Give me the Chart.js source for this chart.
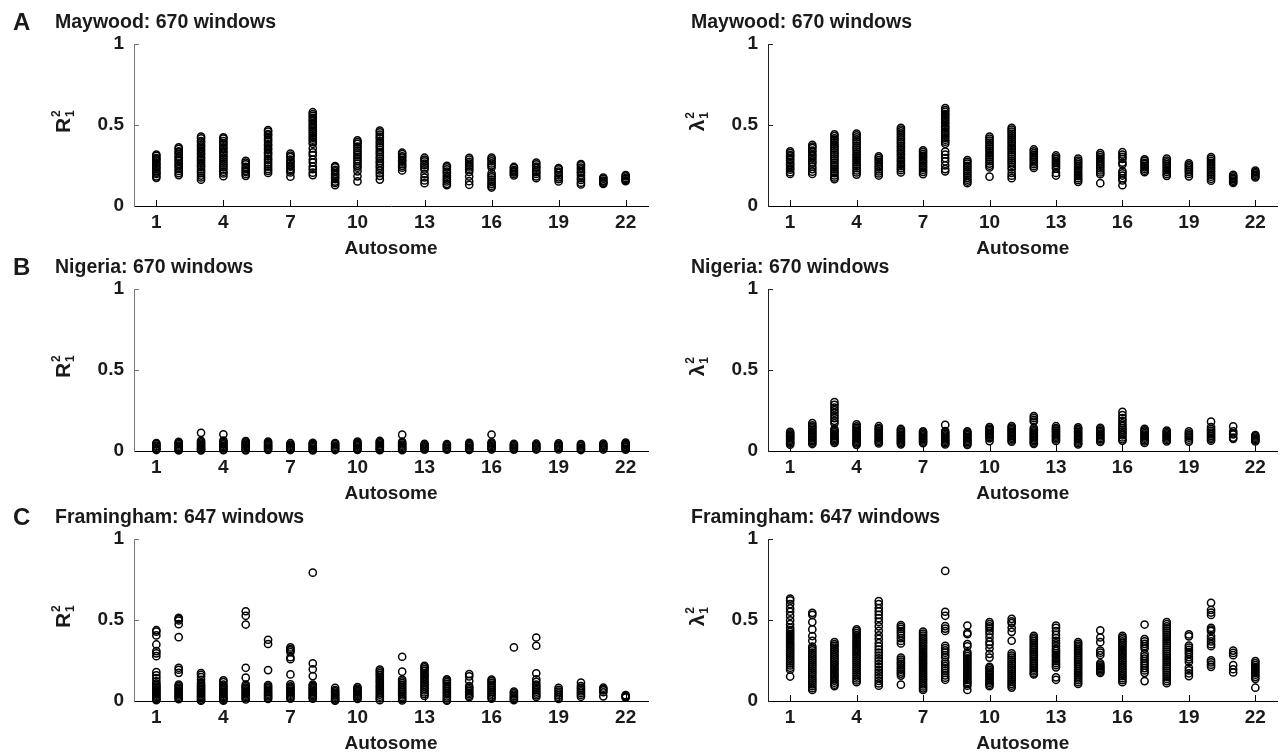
<!DOCTYPE html>
<html>
<head>
<meta charset="utf-8">
<script src="https://cdn.jsdelivr.net/npm/chart.js@4.4.0/dist/chart.umd.min.js"></script>
<style>
body{margin:0;background:#fff;}
#wrap{position:relative;width:1283px;height:755px;overflow:hidden;background:#fff;}
canvas{position:absolute;}
</style>
</head>
<body>
<div id="wrap">
<canvas id="pA1" width="655" height="260" style="left:0;top:0"></canvas>
<canvas id="pA2" width="628" height="260" style="left:655px;top:0"></canvas>
<canvas id="pB1" width="655" height="260" style="left:0;top:245px"></canvas>
<canvas id="pB2" width="628" height="260" style="left:655px;top:245px"></canvas>
<canvas id="pC1" width="655" height="260" style="left:0;top:495px"></canvas>
<canvas id="pC2" width="628" height="260" style="left:655px;top:495px"></canvas>
</div>
<script>
var autosomes = [1,2,3,4,5,6,7,8,9,10,11,12,13,14,15,16,17,18,19,20,21,22];
var xTickLabels = [1,4,7,10,13,16,19,22];
var yTickLabels = [0,0.5,1];
var panelLetters = ['A','','B','','C',''];
var panelTitles = ['Maywood: 670 windows','Maywood: 670 windows','Nigeria: 670 windows','Nigeria: 670 windows','Framingham: 647 windows','Framingham: 647 windows'];

// values per autosome
var maywoodR2 = [
 [0.318,0.309,0.296,0.288,0.281,0.266,0.259,0.247,0.236,0.229,0.214,0.206,0.198,0.183,0.174],
 [0.362,0.353,0.338,0.331,0.322,0.306,0.299,0.284,0.277,0.262,0.251,0.244,0.229,0.216,0.203,0.191],
 [0.428,0.417,0.401,0.393,0.377,0.366,0.352,0.341,0.327,0.318,0.302,0.291,0.279,0.266,0.251,0.243,0.227,0.214,0.203,0.188,0.176,0.162],
 [0.424,0.416,0.401,0.389,0.377,0.362,0.353,0.337,0.328,0.313,0.301,0.288,0.276,0.263,0.252,0.239,0.226,0.212,0.201,0.184],
 [0.279,0.268,0.257,0.241,0.233,0.218,0.211,0.198,0.186],
 [0.468,0.459,0.444,0.436,0.421,0.409,0.397,0.381,0.372,0.356,0.347,0.331,0.322,0.308,0.293,0.284,0.269,0.256,0.243,0.229,0.217,0.204],
 [0.323,0.311,0.302,0.287,0.276,0.266,0.251,0.243,0.229,0.218,0.207,0.181],
 [0.579,0.568,0.556,0.544,0.531,0.522,0.507,0.496,0.483,0.471,0.458,0.447,0.433,0.421,0.409,0.396,0.384,0.356,0.331,0.314,0.287,0.268,0.243,0.227,0.206,0.191],
 [0.247,0.238,0.223,0.214,0.199,0.191,0.178,0.166,0.151,0.142,0.129],
 [0.406,0.394,0.383,0.367,0.358,0.342,0.331,0.316,0.303,0.289,0.276,0.262,0.247,0.236,0.214,0.183,0.152],
 [0.466,0.455,0.441,0.428,0.417,0.401,0.389,0.373,0.362,0.347,0.333,0.321,0.304,0.293,0.277,0.266,0.249,0.236,0.219,0.203,0.186,0.163],
 [0.329,0.321,0.307,0.298,0.283,0.274,0.259,0.248,0.236,0.219],
 [0.298,0.287,0.276,0.261,0.252,0.238,0.226,0.197,0.176,0.158,0.141],
 [0.248,0.239,0.226,0.212,0.203,0.188,0.177,0.163,0.152,0.137,0.128],
 [0.297,0.286,0.273,0.262,0.249,0.238,0.226,0.211,0.182,0.153,0.131],
 [0.299,0.288,0.276,0.263,0.251,0.238,0.201,0.188,0.177,0.163,0.149,0.137,0.124,0.114],
 [0.241,0.234,0.222,0.214,0.207,0.198,0.189],
 [0.268,0.257,0.243,0.236,0.221,0.209,0.198,0.183,0.172],
 [0.234,0.226,0.212,0.203,0.189,0.177,0.166,0.152],
 [0.259,0.251,0.237,0.226,0.211,0.203,0.188,0.172,0.161,0.144,0.133],
 [0.176,0.168,0.157,0.151,0.143,0.137],
 [0.191,0.183,0.172,0.167,0.159,0.153]
];
var maywoodL2 = [
 [0.338,0.326,0.314,0.306,0.291,0.283,0.268,0.257,0.246,0.233,0.224,0.209,0.198],
 [0.377,0.366,0.357,0.342,0.333,0.318,0.309,0.296,0.284,0.271,0.262,0.243,0.228,0.212,0.198],
 [0.443,0.432,0.418,0.409,0.393,0.381,0.368,0.357,0.343,0.331,0.318,0.306,0.292,0.281,0.267,0.254,0.241,0.228,0.214,0.203,0.189,0.176,0.166],
 [0.447,0.436,0.423,0.411,0.398,0.386,0.372,0.361,0.348,0.336,0.321,0.309,0.296,0.284,0.271,0.258,0.246,0.233,0.219,0.207,0.194],
 [0.306,0.296,0.284,0.273,0.262,0.248,0.239,0.226,0.213,0.201,0.188],
 [0.483,0.472,0.461,0.448,0.436,0.423,0.411,0.397,0.386,0.372,0.361,0.347,0.336,0.322,0.311,0.297,0.284,0.272,0.258,0.246,0.233,0.221,0.207],
 [0.344,0.333,0.321,0.309,0.298,0.284,0.273,0.261,0.248,0.236,0.224,0.211,0.197],
 [0.604,0.592,0.581,0.568,0.557,0.544,0.532,0.519,0.508,0.494,0.483,0.471,0.458,0.446,0.434,0.421,0.409,0.397,0.384,0.336,0.318,0.296,0.276,0.251,0.228,0.214],
 [0.284,0.273,0.262,0.248,0.238,0.224,0.213,0.199,0.187,0.174,0.162,0.151,0.141],
 [0.428,0.416,0.403,0.392,0.378,0.366,0.353,0.341,0.328,0.314,0.302,0.289,0.276,0.262,0.249,0.238,0.181],
 [0.483,0.471,0.459,0.447,0.434,0.421,0.409,0.396,0.384,0.371,0.358,0.346,0.332,0.319,0.306,0.293,0.281,0.268,0.256,0.241,0.226,0.204,0.187,0.172],
 [0.349,0.338,0.327,0.316,0.304,0.293,0.282,0.269,0.258,0.246,0.235],
 [0.312,0.301,0.289,0.278,0.266,0.254,0.243,0.231,0.204,0.188],
 [0.292,0.281,0.269,0.258,0.246,0.234,0.222,0.209,0.196,0.184,0.172,0.161,0.149],
 [0.326,0.314,0.302,0.291,0.279,0.268,0.256,0.244,0.232,0.219,0.207,0.196,0.141],
 [0.332,0.318,0.304,0.291,0.268,0.256,0.214,0.201,0.188,0.172,0.158,0.128],
 [0.288,0.278,0.267,0.258,0.248,0.239,0.229,0.218,0.209],
 [0.292,0.281,0.269,0.258,0.246,0.234,0.222,0.211,0.198,0.186],
 [0.264,0.253,0.243,0.232,0.221,0.211,0.198,0.183],
 [0.302,0.291,0.279,0.267,0.255,0.243,0.231,0.218,0.206,0.193,0.181,0.168,0.156],
 [0.192,0.183,0.174,0.166,0.157,0.149,0.142],
 [0.218,0.209,0.201,0.193,0.184,0.176]
];
var nigeriaR2 = [
 [0.049,0.042,0.033,0.027,0.018,0.012,0.006],
 [0.057,0.049,0.043,0.034,0.027,0.021,0.013,0.008,0.003],
 [0.112,0.063,0.054,0.046,0.038,0.031,0.023,0.016,0.009,0.004],
 [0.103,0.064,0.057,0.048,0.041,0.032,0.025,0.018,0.01,0.005],
 [0.061,0.053,0.046,0.038,0.03,0.023,0.016,0.009,0.004],
 [0.058,0.051,0.042,0.036,0.028,0.021,0.014,0.007],
 [0.048,0.04,0.033,0.026,0.019,0.011,0.006],
 [0.051,0.044,0.036,0.03,0.022,0.014,0.008,0.003],
 [0.049,0.042,0.034,0.026,0.019,0.012,0.006],
 [0.058,0.05,0.043,0.036,0.028,0.02,0.013,0.007],
 [0.062,0.055,0.047,0.04,0.032,0.025,0.018,0.011,0.005],
 [0.101,0.056,0.048,0.04,0.033,0.026,0.018,0.011,0.005],
 [0.044,0.037,0.029,0.022,0.015,0.008],
 [0.043,0.036,0.028,0.021,0.014,0.008],
 [0.05,0.043,0.035,0.028,0.02,0.013,0.007],
 [0.102,0.054,0.046,0.039,0.031,0.024,0.016,0.009],
 [0.044,0.036,0.029,0.021,0.014,0.008],
 [0.045,0.037,0.03,0.022,0.015,0.009],
 [0.047,0.04,0.032,0.025,0.017,0.01],
 [0.043,0.035,0.028,0.02,0.013,0.006],
 [0.046,0.038,0.031,0.023,0.016,0.009],
 [0.052,0.044,0.037,0.029,0.022,0.014,0.008]
];
var nigeriaL2 = [
 [0.118,0.109,0.101,0.093,0.086,0.078,0.07,0.062,0.054,0.047,0.039],
 [0.172,0.158,0.149,0.14,0.131,0.122,0.113,0.104,0.095,0.087,0.078,0.069,0.061,0.052,0.043],
 [0.302,0.285,0.268,0.252,0.236,0.219,0.203,0.186,0.171,0.135,0.126,0.117,0.108,0.099,0.091,0.082,0.074,0.066,0.058,0.05],
 [0.165,0.152,0.143,0.134,0.125,0.116,0.107,0.098,0.089,0.081,0.072,0.064,0.055,0.047,0.038],
 [0.153,0.142,0.133,0.124,0.115,0.106,0.097,0.089,0.08,0.071,0.063,0.055,0.047],
 [0.136,0.127,0.118,0.109,0.1,0.092,0.083,0.075,0.066,0.058,0.05,0.041],
 [0.121,0.113,0.105,0.097,0.089,0.081,0.073,0.065,0.057,0.049],
 [0.161,0.123,0.114,0.106,0.097,0.089,0.08,0.072,0.064,0.056,0.048,0.04],
 [0.121,0.113,0.104,0.096,0.088,0.079,0.071,0.063,0.055,0.046,0.038],
 [0.148,0.139,0.13,0.121,0.112,0.103,0.095,0.086,0.078,0.061],
 [0.154,0.145,0.136,0.127,0.118,0.109,0.1,0.091,0.083,0.074,0.065,0.057],
 [0.215,0.204,0.192,0.182,0.142,0.131,0.122,0.113,0.104,0.095,0.087,0.078,0.069,0.061,0.052,0.044],
 [0.153,0.142,0.133,0.124,0.115,0.106,0.097,0.089,0.08,0.071,0.062],
 [0.146,0.137,0.128,0.118,0.109,0.1,0.091,0.083,0.074,0.065,0.057,0.048,0.04],
 [0.143,0.134,0.125,0.116,0.107,0.099,0.09,0.081,0.073,0.064,0.056],
 [0.242,0.222,0.203,0.186,0.171,0.156,0.142,0.131,0.119,0.108,0.097,0.084,0.072,0.063],
 [0.137,0.128,0.119,0.11,0.101,0.093,0.084,0.076,0.067,0.059,0.05],
 [0.126,0.118,0.109,0.101,0.092,0.084,0.076,0.067,0.059],
 [0.121,0.109,0.1,0.091,0.082,0.07,0.058],
 [0.181,0.148,0.135,0.124,0.113,0.103,0.093,0.083,0.073,0.064],
 [0.152,0.122,0.109,0.102,0.083,0.075],
 [0.098,0.09,0.082,0.074,0.067,0.059]
];
var framinghamR2 = [
 [0.437,0.428,0.405,0.349,0.308,0.294,0.277,0.178,0.159,0.141,0.122,0.108,0.098,0.089,0.081,0.072,0.064,0.056,0.048,0.041,0.033,0.025,0.018,0.011,0.005],
 [0.513,0.506,0.497,0.474,0.394,0.205,0.193,0.174,0.101,0.092,0.083,0.075,0.066,0.058,0.05,0.042,0.034,0.026,0.018,0.011],
 [0.172,0.162,0.148,0.131,0.112,0.101,0.092,0.083,0.074,0.066,0.057,0.049,0.041,0.032,0.024,0.016,0.008,0.002],
 [0.128,0.117,0.101,0.092,0.083,0.074,0.065,0.057,0.048,0.04,0.031,0.023,0.015,0.007,0.002],
 [0.554,0.526,0.472,0.205,0.144,0.101,0.092,0.083,0.075,0.066,0.058,0.049,0.041,0.033,0.025,0.017,0.01],
 [0.378,0.352,0.191,0.098,0.089,0.08,0.071,0.062,0.054,0.045,0.037,0.029,0.02,0.013],
 [0.331,0.321,0.312,0.302,0.27,0.258,0.164,0.103,0.091,0.082,0.073,0.064,0.056,0.047,0.039,0.03,0.022,0.014],
 [0.792,0.232,0.196,0.154,0.102,0.094,0.086,0.078,0.07,0.062,0.054,0.046,0.038,0.03,0.022,0.014],
 [0.081,0.068,0.059,0.051,0.043,0.035,0.027,0.019,0.012,0.005,0.002],
 [0.086,0.077,0.069,0.061,0.053,0.045,0.037,0.029,0.021,0.013],
 [0.194,0.183,0.172,0.161,0.148,0.136,0.124,0.112,0.099,0.087,0.075,0.063,0.051,0.039,0.027,0.016,0.005],
 [0.273,0.181,0.132,0.121,0.11,0.099,0.088,0.077,0.066,0.056,0.045,0.034,0.023,0.012,0.003],
 [0.217,0.208,0.197,0.186,0.172,0.161,0.149,0.137,0.125,0.113,0.101,0.089,0.077,0.065,0.053,0.042,0.031],
 [0.134,0.126,0.117,0.106,0.095,0.084,0.073,0.062,0.051,0.04,0.029,0.018,0.008,0.002],
 [0.166,0.152,0.124,0.092,0.082,0.072,0.062,0.052,0.042,0.033,0.024],
 [0.132,0.123,0.112,0.101,0.09,0.079,0.068,0.057,0.046,0.035,0.024,0.014],
 [0.331,0.058,0.049,0.04,0.031,0.022,0.013,0.005],
 [0.392,0.341,0.171,0.134,0.118,0.101,0.09,0.079,0.068,0.057,0.046,0.035,0.025],
 [0.081,0.069,0.058,0.047,0.036,0.025,0.013],
 [0.113,0.092,0.081,0.07,0.059,0.048,0.037,0.026],
 [0.082,0.073,0.065,0.054,0.029],
 [0.036,0.031,0.026,0.021]
];
var framinghamL2 = [
 [0.632,0.621,0.598,0.572,0.551,0.526,0.498,0.474,0.452,0.438,0.426,0.413,0.401,0.389,0.376,0.364,0.352,0.341,0.329,0.317,0.305,0.293,0.281,0.268,0.256,0.244,0.232,0.219,0.206,0.193,0.151],
 [0.544,0.532,0.487,0.442,0.401,0.372,0.336,0.324,0.312,0.299,0.287,0.275,0.263,0.251,0.238,0.226,0.214,0.202,0.189,0.177,0.165,0.152,0.139,0.127,0.115,0.103,0.091,0.079,0.068],
 [0.364,0.352,0.341,0.329,0.317,0.305,0.293,0.281,0.269,0.257,0.245,0.233,0.221,0.209,0.197,0.185,0.173,0.161,0.149,0.137,0.125,0.113,0.101,0.092],
 [0.442,0.431,0.419,0.407,0.395,0.383,0.371,0.358,0.346,0.334,0.322,0.31,0.298,0.286,0.273,0.261,0.249,0.237,0.225,0.212,0.2,0.188,0.176,0.163,0.151,0.139,0.127,0.116],
 [0.617,0.598,0.574,0.553,0.532,0.511,0.488,0.461,0.433,0.406,0.383,0.358,0.337,0.318,0.299,0.281,0.263,0.246,0.228,0.211,0.193,0.176,0.158,0.141,0.124,0.108,0.094],
 [0.468,0.457,0.445,0.431,0.418,0.403,0.388,0.371,0.355,0.268,0.256,0.243,0.231,0.219,0.206,0.194,0.181,0.169,0.157,0.101],
 [0.428,0.416,0.404,0.392,0.38,0.368,0.356,0.344,0.332,0.32,0.307,0.295,0.283,0.271,0.259,0.247,0.235,0.223,0.211,0.199,0.186,0.174,0.162,0.15,0.138,0.126,0.114,0.102,0.09,0.078,0.068],
 [0.803,0.551,0.526,0.462,0.447,0.432,0.341,0.326,0.312,0.298,0.284,0.27,0.242,0.229,0.215,0.201,0.187,0.173,0.158,0.144,0.131],
 [0.466,0.421,0.412,0.352,0.338,0.301,0.289,0.277,0.264,0.252,0.24,0.228,0.216,0.203,0.191,0.179,0.167,0.154,0.142,0.13,0.118,0.106,0.094,0.068],
 [0.487,0.474,0.461,0.448,0.432,0.414,0.391,0.365,0.348,0.324,0.291,0.268,0.211,0.201,0.191,0.181,0.171,0.161,0.151,0.141,0.131,0.121,0.111,0.101,0.091],
 [0.507,0.491,0.481,0.452,0.427,0.372,0.294,0.281,0.268,0.256,0.243,0.231,0.218,0.206,0.193,0.181,0.168,0.156,0.143,0.131,0.118,0.106,0.094,0.083],
 [0.402,0.391,0.38,0.369,0.358,0.347,0.336,0.325,0.314,0.303,0.292,0.281,0.27,0.259,0.248,0.237,0.226,0.215,0.204,0.193,0.182,0.171,0.164],
 [0.466,0.451,0.432,0.408,0.389,0.372,0.356,0.339,0.322,0.309,0.296,0.283,0.271,0.258,0.246,0.233,0.221,0.208,0.146,0.131],
 [0.364,0.353,0.342,0.331,0.319,0.308,0.297,0.286,0.274,0.263,0.252,0.241,0.229,0.218,0.207,0.196,0.184,0.173,0.162,0.151,0.139,0.128,0.116,0.105],
 [0.436,0.392,0.363,0.311,0.298,0.284,0.232,0.221,0.213,0.205,0.197,0.189,0.181,0.173],
 [0.402,0.391,0.38,0.368,0.357,0.345,0.333,0.321,0.309,0.297,0.285,0.273,0.261,0.249,0.237,0.225,0.213,0.201,0.189,0.177,0.165,0.153,0.141,0.129,0.116],
 [0.472,0.382,0.368,0.353,0.339,0.324,0.291,0.276,0.262,0.247,0.232,0.218,0.203,0.189,0.174,0.123],
 [0.487,0.474,0.461,0.448,0.435,0.422,0.409,0.396,0.383,0.37,0.357,0.344,0.331,0.318,0.305,0.292,0.279,0.266,0.253,0.24,0.227,0.214,0.201,0.188,0.175,0.162,0.149,0.136,0.123,0.11],
 [0.411,0.399,0.342,0.329,0.316,0.302,0.289,0.271,0.257,0.241,0.205,0.189,0.171,0.154],
 [0.606,0.562,0.546,0.531,0.452,0.441,0.432,0.401,0.384,0.368,0.351,0.338,0.251,0.238,0.224,0.211],
 [0.311,0.297,0.283,0.221,0.196,0.176],
 [0.246,0.234,0.222,0.21,0.198,0.186,0.174,0.162,0.149,0.137,0.082]
];

var FONT = '"Liberation Sans", Arial, Helvetica, sans-serif';

// draws inward ticks, panel heading, axis labels
var panelText = {
    id: 'panelText',
    afterDraw: function(chart, args, opts) {
        var ctx = chart.ctx;
        var a = chart.chartArea;
        var xs = chart.scales.x, ys = chart.scales.y;
        ctx.save();
        ctx.lineWidth = 1;
        ctx.strokeStyle = '#000';
        xTickLabels.forEach(function(v){
            var px = Math.round(xs.getPixelForValue(v)) + 0.5;
            ctx.beginPath(); ctx.moveTo(px, a.bottom); ctx.lineTo(px, a.bottom - 6); ctx.stroke();
        });
        ctx.strokeStyle = opts.axisColor;
        [0.5, 1].forEach(function(v){
            var py = Math.round(ys.getPixelForValue(v)) + 0.5;
            ctx.beginPath(); ctx.moveTo(a.left, py); ctx.lineTo(a.left + 5, py); ctx.stroke();
        });

        ctx.fillStyle = '#1a1a1a';
        ctx.textBaseline = 'alphabetic';
        ctx.textAlign = 'left';
        if (opts.letter) {
            ctx.font = 'bold 24px ' + FONT;
            ctx.fillText(opts.letter, 13, 30);
        }
        ctx.font = 'bold 19.5px ' + FONT;
        ctx.fillText(opts.title, opts.titleX, 28);

        ctx.font = 'bold 19px ' + FONT;
        ctx.textAlign = 'center';
        ctx.textBaseline = 'middle';
        ctx.fillText('Autosome', (a.left + a.right) / 2, a.bottom + 43);

        // rotated y label with stacked super/subscript
        ctx.translate(opts.ylabX, (a.top + a.bottom) / 2 - 3);
        ctx.rotate(-Math.PI / 2);
        ctx.textAlign = 'left';
        ctx.textBaseline = 'alphabetic';
        ctx.font = 'bold 21px ' + FONT;
        var w = ctx.measureText(opts.sym).width;
        var x0 = -(w + 7) / 2;
        ctx.fillText(opts.sym, x0, 7);
        ctx.font = 'bold 12px ' + FONT;
        ctx.fillText('2', x0 + w + 1, -3);
        ctx.fillText('1', x0 + w + 1, 11);
        ctx.restore();
    }
};

function makePanel(id, idx, sym, values, side) {
    var pts = [];
    values.forEach(function(col, i){
        col.forEach(function(v){ pts.push({x: autosomes[i], y: v}); });
    });
    var left = side === 'left';
    var axisColor = left ? '#7a7a7a' : '#222';
    new Chart(document.getElementById(id).getContext('2d'), {
        type: 'scatter',
        data: {
            datasets: [{
                data: pts,
                pointStyle: 'circle',
                pointRadius: 3.6,
                pointBorderWidth: 1.5,
                pointBorderColor: '#000',
                pointBackgroundColor: 'rgba(255,255,255,0)',
                clip: false
            }]
        },
        options: {
            responsive: false,
            animation: false,
            devicePixelRatio: 1,
            layout: {padding: {top: 44, right: left ? 7 : 1, bottom: 0, left: 0}},
            plugins: {
                legend: {display: false},
                tooltip: {enabled: false},
                panelText: {
                    letter: panelLetters[idx],
                    title: panelTitles[idx],
                    titleX: left ? 55 : 36,
                    ylabX: left ? 63 : 42,
                    sym: sym,
                    axisColor: axisColor
                }
            },
            scales: {
                x: {
                    type: 'linear', min: 0, max: 23,
                    grid: {display: false, drawTicks: false},
                    border: {display: true, color: '#000', width: 1},
                    afterBuildTicks: function(s){ s.ticks = xTickLabels.map(function(v){ return {value: v}; }); },
                    afterFit: function(s){ s.height = 54; },
                    ticks: {
                        autoSkip: false, maxRotation: 0, padding: 5, color: '#1a1a1a',
                        font: {family: FONT, size: 19, weight: 'bold'}
                    }
                },
                y: {
                    type: 'linear', min: 0, max: 1,
                    grid: {display: false, drawTicks: false},
                    border: {display: true, color: axisColor, width: 1},
                    afterBuildTicks: function(s){ s.ticks = yTickLabels.map(function(v){ return {value: v}; }); },
                    afterFit: function(s){ s.width = left ? 134 : 113; },
                    ticks: {
                        padding: 10, color: '#1a1a1a',
                        font: {family: FONT, size: 19, weight: 'bold'},
                        callback: function(v){ return String(v); }
                    }
                }
            }
        },
        plugins: [panelText]
    });
}

makePanel('pA1', 0, 'R', maywoodR2, 'left');
makePanel('pA2', 1, '\u03bb', maywoodL2, 'right');
makePanel('pB1', 2, 'R', nigeriaR2, 'left');
makePanel('pB2', 3, '\u03bb', nigeriaL2, 'right');
makePanel('pC1', 4, 'R', framinghamR2, 'left');
makePanel('pC2', 5, '\u03bb', framinghamL2, 'right');
</script>
</body>
</html>
